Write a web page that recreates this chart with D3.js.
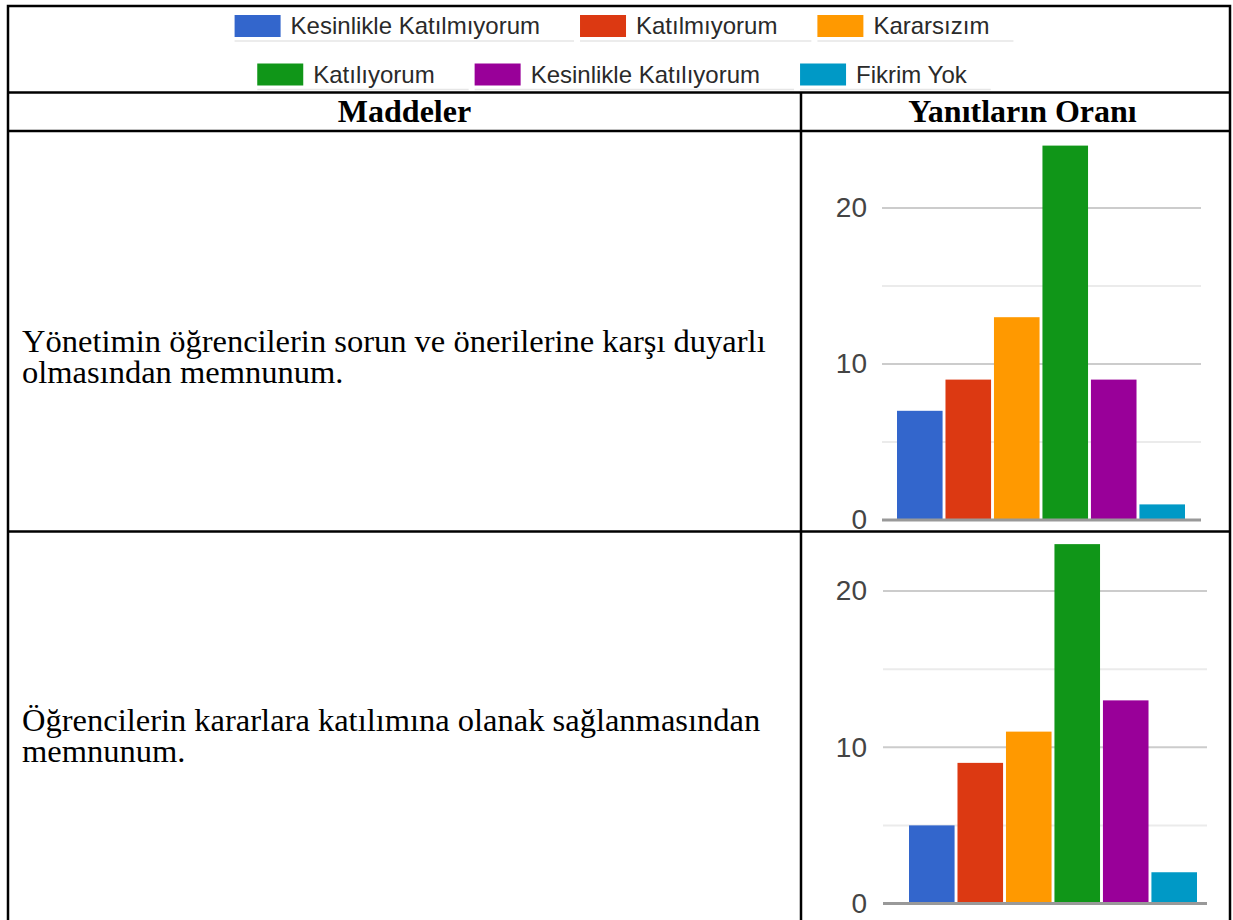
<!DOCTYPE html>
<html>
<head>
<meta charset="utf-8">
<script src="https://cdn.jsdelivr.net/npm/d3@7"></script>
<style>
  html, body { margin: 0; padding: 0; background: #fff; }
  svg { display: block; }
</style>
</head>
<body>
<svg id="chart" width="1233" height="920"></svg>
<script>
// ---- data ----
const categories = ["Kesinlikle Katılmıyorum", "Katılmıyorum", "Kararsızım", "Katılıyorum", "Kesinlikle Katılıyorum", "Fikrim Yok"];
const seriesColors = ["#3366cc", "#dc3912", "#ff9900", "#109618", "#990099", "#0099c6"];
const headers = ["Maddeler", "Yanıtların Oranı"];
const item1Lines = ["Yönetimin öğrencilerin sorun ve önerilerine karşı duyarlı", "olmasından memnunum."];
const item2Lines = ["Öğrencilerin kararlara katılımına olanak sağlanmasından", "memnunum."];
const item1Values = [7, 9, 13, 24, 9, 1];
const item2Values = [5, 9, 11, 23, 13, 2];
const yTickLabels = [0, 10, 20];
const yGridValues = [5, 10, 15, 20];

// ---- layout ----
const svg = d3.select("#chart");
svg.append("rect").attr("width", 1233).attr("height", 920).attr("fill", "#fff");

const T = { left: 8, right: 1230, top: 6, legendBottom: 92.5, headerBottom: 131, rowDiv: 531.5, bottom: 940, colDiv: 801 };

// ---- legend ----
const legendRows = [categories.slice(0, 3), categories.slice(3, 6)];
const legendRowY = [26, 74.5];
const sw = 46, sh = 22, swGap = 10, itemGap = 40, legendCenter = 612;
const lg = svg.append("g").attr("font-family", "Arial, 'Liberation Sans', sans-serif").attr("font-size", 24);
legendRows.forEach((row, ri) => {
  const widths = row.map(t => {
    const tmp = lg.append("text").text(t);
    const w = tmp.node().getComputedTextLength();
    tmp.remove();
    return w;
  });
  const total = d3.sum(widths) + row.length * (sw + swGap) + (row.length - 1) * itemGap;
  let x = legendCenter - total / 2;
  row.forEach((t, i) => {
    const ci = categories.indexOf(t);
    const cy = legendRowY[ri];
    const endX = x + sw + swGap + widths[i];
    lg.append("line")
      .attr("x1", x).attr("x2", endX + (i === row.length - 1 ? 24 : itemGap - 6))
      .attr("y1", cy + 15).attr("y2", cy + 15)
      .attr("stroke", "#e6e6e6").attr("stroke-width", 1.5);
    lg.append("rect").attr("x", x).attr("y", cy - sh / 2).attr("width", sw).attr("height", sh)
      .attr("fill", seriesColors[ci]);
    lg.append("text").attr("x", x + sw + swGap).attr("y", cy).attr("dy", "0.35em")
      .attr("fill", "#2a2a2a").text(t);
    x = endX + itemGap;
  });
});

// ---- header ----
const hg = svg.append("g").attr("font-family", "'Liberation Serif', 'Times New Roman', serif")
  .attr("font-size", 32).attr("font-weight", "bold").attr("fill", "#000").attr("text-anchor", "middle");
hg.append("text").attr("x", (T.left + T.colDiv) / 2).attr("y", 122).text(headers[0]);
hg.append("text").attr("x", (T.colDiv + T.right) / 2 + 7).attr("y", 122).text(headers[1]);

// ---- item texts (one text element per cell, lines as tspans) ----
const tg = svg.append("g").attr("font-family", "'Liberation Serif', 'Times New Roman', serif")
  .attr("font-size", 32.5).attr("fill", "#000");
function drawLines(lines, x, y0, lh) {
  const t = tg.append("text").attr("x", x).attr("y", y0);
  lines.forEach((l, i) => t.append("tspan").attr("x", x).attr("dy", i === 0 ? 0 : lh).text(l));
}
drawLines(item1Lines, 22, 352, 31);
drawLines(item2Lines, 22, 731, 31);

// ---- bar charts ----
const defs = svg.append("defs");
function barChart(values, cfg, id) {
  defs.append("clipPath").attr("id", id).append("rect")
    .attr("x", T.colDiv).attr("y", cfg.cellTop).attr("width", T.right - T.colDiv).attr("height", cfg.cellBottom - cfg.cellTop);
  const g = svg.append("g").attr("clip-path", `url(#${id})`);
  const y = d3.scaleLinear().domain([0, 20]).range([cfg.y0, cfg.y20]);
  const x = d3.scaleBand().domain(categories).range([cfg.barStart, cfg.barEnd]).paddingInner(0.06).paddingOuter(0);
  g.selectAll(".grid").data(yGridValues).enter().append("line")
    .attr("x1", cfg.gridStart).attr("x2", cfg.gridEnd)
    .attr("y1", d => y(d)).attr("y2", d => y(d))
    .attr("stroke", d => d % 10 === 0 ? "#cccccc" : "#ebebeb").attr("stroke-width", 2);
  g.selectAll(".bar").data(values).enter().append("rect")
    .attr("x", (d, i) => x(categories[i])).attr("width", x.bandwidth())
    .attr("y", d => y(d)).attr("height", d => y(0) - y(d))
    .attr("fill", (d, i) => seriesColors[i]);
  g.append("line").attr("x1", cfg.gridStart).attr("x2", cfg.gridEnd)
    .attr("y1", y(0)).attr("y2", y(0)).attr("stroke", "#999").attr("stroke-width", 3);
  const axis = d3.axisLeft(y).tickValues(yTickLabels).tickSize(0).tickPadding(0).tickFormat(d3.format("d"));
  const ag = g.append("g").attr("transform", `translate(${cfg.labelX},0)`).call(axis);
  ag.select(".domain").remove();
  ag.selectAll("text").attr("font-family", "Arial, 'Liberation Sans', sans-serif")
    .attr("font-size", 28).attr("fill", "#444");
}
barChart(item1Values, { cellTop: 132, cellBottom: 531, y0: 520, y20: 208, gridStart: 882, gridEnd: 1201, barStart: 897, barEnd: 1185, labelX: 867 }, "c1");
barChart(item2Values, { cellTop: 532, cellBottom: 940, y0: 903.5, y20: 591, gridStart: 883, gridEnd: 1207, barStart: 909, barEnd: 1197, labelX: 867 }, "c2");

// ---- table borders ----
const bg = svg.append("g").attr("stroke", "#000").attr("stroke-width", 2.5).attr("fill", "none");
bg.append("rect").attr("x", T.left).attr("y", T.top).attr("width", T.right - T.left).attr("height", T.bottom - T.top);
[T.legendBottom, T.headerBottom, T.rowDiv].forEach(yy =>
  bg.append("line").attr("x1", T.left).attr("x2", T.right).attr("y1", yy).attr("y2", yy));
bg.append("line").attr("x1", T.colDiv).attr("x2", T.colDiv).attr("y1", T.legendBottom).attr("y2", T.bottom);
</script>
</body>
</html>
